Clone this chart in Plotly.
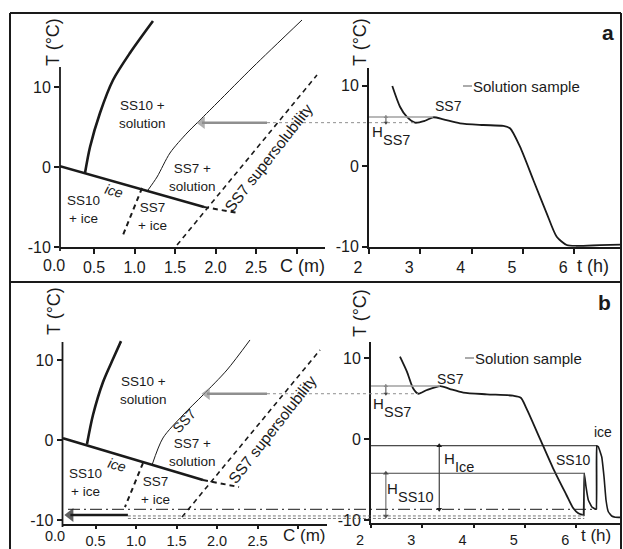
import plotly.graph_objects as go

W, H = 623, 549
FONT = "Liberation Sans, Arial, Helvetica, sans-serif"
INK = "#1a1a1a"
GRAY = "#8f8f8f"

# ---------------- data: panel a, phase diagram (C in m, T in degC) ----------------
a_ice_C = [0.08, 1.858]
a_ice_T = [0.1, -5.0]
a_ss10_C = [0.389, 0.451, 0.574, 0.735, 0.944, 1.228]
a_ss10_T = [-0.75, 2.5, 6.75, 10.875, 14.25, 18.25]
a_ss7_C = [1.167, 1.278, 1.438, 1.648, 1.772, 2.019, 2.463, 3.068]
a_ss7_T = [-2.875, -1.25, 1.75, 4.25, 5.5, 8.0, 12.5, 18.375]
a_ss7ice_C = [1.093, 0.858]
a_ss7ice_T = [-2.625, -8.5]
a_iceext_C = [1.858, 2.278]
a_iceext_T = [-5.0, -5.75]
a_super_C = [1.525, 3.253]
a_super_T = [-9.75, 11.5]
a_arrow_C = [2.636, 1.772]      # gray arrow: tail -> head
a_arrow_T = 5.54

# panel a, temperature record (t in h, T in degC)
a_t = [2.454, 2.604, 2.735, 2.897, 3.092, 3.253, 3.448, 3.774, 4.228, 4.618,
       4.749, 4.943, 5.203, 5.464, 5.659, 5.854, 6.049, 6.5, 6.91]
a_T = [9.97, 7.40, 6.16, 5.42, 5.66, 6.09, 5.84, 5.34, 5.13, 5.01,
       4.72, 2.43, -1.70, -5.84, -8.75, -9.78, -9.90, -9.80, -9.72]
a_sample_T = 6.12      # solution sample level
a_sample_t_end = 3.25
a_min_T = 5.42         # SS7 nucleation level
a_H_t = 2.33

# ---------------- data: panel b, phase diagram ----------------
b_ice_C = [0.099, 1.827]
b_ice_T = [0.25, -4.96]
b_ss10_C = [0.395, 0.469, 0.593, 0.72, 0.815]
b_ss10_T = [-0.46, 3.16, 7.29, 10.25, 12.4]
b_ss7_C = [1.198, 1.333, 1.580, 1.827, 2.123, 2.407]
b_ss7_T = [-3.09, 0.29, 3.16, 5.66, 8.79, 12.54]
b_ss7ice_C = [1.086, 0.864]
b_ss7ice_T = [-2.84, -8.34]
b_iceext_C = [1.827, 2.272]
b_iceext_T = [-4.96, -5.84]
b_super_C = [1.568, 3.272]
b_super_T = [-9.59, 11.29]
b_arrow_C = [2.617, 1.815]      # gray arrow
b_arrow_T = 5.82
b_black_C = [0.90, 0.123]       # black arrow to the C axis
b_black_T = -9.34

# panel b, temperature record
b_t = [2.565, 2.70, 2.82, 2.92, 3.09, 3.35, 3.54, 3.80, 4.26, 4.77, 4.92,
       5.03, 5.29, 5.55, 5.81, 5.944, 6.041, 6.127]
b_T = [10.16, 8.31, 6.26, 5.59, 6.05, 6.54, 6.17, 5.72, 5.52, 5.35, 5.10,
       3.79, 0.09, -3.62, -6.91, -8.56, -9.17, -9.38]
b_spike_t = [6.127, 6.139, 6.158, 6.191, 6.236, 6.302, 6.386, 6.400, 6.431,
             6.497, 6.542, 6.581, 6.626, 6.692, 6.76, 6.87]
b_spike_T = [-9.38, -9.38, -4.23, -5.89, -7.53, -8.36, -8.68, -0.83, -0.95,
             -2.19, -4.65, -7.53, -8.98, -9.51, -9.65, -9.67]
b_sample_T = 6.54
b_sample_t_end = 3.345
b_min_T = 5.59
b_ice_peak_T = -0.83
b_ice_peak_t = 6.400
b_ss10_peak_T = -4.23
b_ss10_peak_t = 6.158
b_dashdot_T = -8.68
b_ss10_min_T = -9.5
b_H_t = 2.29
b_Hice_t = 3.33

# ---------------- layout geometry (pixels) ----------------
def PX(x): return x / W
def PY(y): return 1 - y / H

LA = dict(x0=60, x1=325, c0=53.5, cs=81.0, ty0=167.0, ts=8.0, ytop=13, ybot=247)
LB = dict(x0=62.5, x1=327, c0=55.0, cs=81.0, ty0=440.3, ts=8.0, ytop=282, ybot=524)
RA = dict(x0=369, x1=621, t0=369, tsx=51.3, ty0=166.3, ts=8.05, ytop=68, ybot=246.8)
RB = dict(x0=371, x1=621, t0=371, tsx=51.3, ty0=439.0, ts=8.1, ytop=342, ybot=523)

def lrange(g):
    return [(g["x0"] - g["c0"]) / g["cs"], (g["x1"] - g["c0"]) / g["cs"]]
def ly(g):
    return [(g["ty0"] - g["ybot"]) / g["ts"], (g["ty0"] - g["ytop"]) / g["ts"]]
def rrange(g):
    return [2, 2 + (g["x1"] - g["t0"]) / g["tsx"]]
def rpy(g, T):
    return g["ty0"] - g["ts"] * T
def rpx(g, t):
    return g["t0"] + g["tsx"] * (t - 2)

fig = go.Figure()

def line(x, y, xa, ya, width, color=INK, dash=None, shape="spline", smoothing=0.8):
    fig.add_trace(go.Scatter(x=x, y=y, xaxis=xa, yaxis=ya, mode="lines",
                             line=dict(color=color, width=width, dash=dash,
                                       shape=shape, smoothing=smoothing),
                             hoverinfo="skip", showlegend=False))

def arrow_h(xa, ya, xs, T, g, color, width, msize):
    shift = (msize * 0.45) / g["cs"]
    fig.add_trace(go.Scatter(x=[xs[0], xs[1] + shift], y=[T, T], xaxis=xa, yaxis=ya,
                             mode="lines+markers", cliponaxis=False,
                             line=dict(color=color, width=width),
                             marker=dict(symbol="triangle-left", size=[0, msize], color=color,
                                         line=dict(width=0)),
                             hoverinfo="skip", showlegend=False))

def arrow_v2(xa, ya, t, T_top, T_bot, color, width=1.0, msize=5):
    fig.add_trace(go.Scatter(x=[t, t], y=[T_top, T_bot], xaxis=xa, yaxis=ya,
                             mode="lines+markers", cliponaxis=False,
                             line=dict(color=color, width=width),
                             marker=dict(symbol=["triangle-up", "triangle-down"], size=msize,
                                         color=color, line=dict(width=0)),
                             hoverinfo="skip", showlegend=False))

for (xa, ya, ice_C, ice_T, s10C, s10T, s7C, s7T, s7iC, s7iT, ieC, ieT, spC, spT) in [
    ("x", "y", a_ice_C, a_ice_T, a_ss10_C, a_ss10_T, a_ss7_C, a_ss7_T, a_ss7ice_C,
     a_ss7ice_T, a_iceext_C, a_iceext_T, a_super_C, a_super_T),
    ("x3", "y3", b_ice_C, b_ice_T, b_ss10_C, b_ss10_T, b_ss7_C, b_ss7_T, b_ss7ice_C,
     b_ss7ice_T, b_iceext_C, b_iceext_T, b_super_C, b_super_T)]:
    line(ice_C, ice_T, xa, ya, 2.6, shape="linear")
    line(s10C, s10T, xa, ya, 2.6)
    line(s7C, s7T, xa, ya, 1.0)
    line(s7iC, s7iT, xa, ya, 2.0, dash="5px,4px", shape="linear")
    line(ieC, ieT, xa, ya, 2.0, dash="5px,4px", shape="linear")
    line(spC, spT, xa, ya, 1.6, dash="5px,4px", shape="linear")

arrow_h("x", "y", a_arrow_C, a_arrow_T, LA, GRAY, 2.4, 11)
arrow_h("x3", "y3", b_arrow_C, b_arrow_T, LB, GRAY, 2.4, 11)
arrow_h("x3", "y3", b_black_C, b_black_T, LB, INK, 2.6, 12)

line(a_t, a_T, "x2", "y2", 1.8, smoothing=0.7)
line(b_t, b_T, "x4", "y4", 1.8, smoothing=0.7)
line(b_spike_t, b_spike_T, "x4", "y4", 1.6, shape="spline", smoothing=0.3)

arrow_v2("x2", "y2", a_H_t, a_sample_T, a_min_T, "#444", 1.0, 4)
arrow_v2("x4", "y4", b_H_t, b_sample_T, b_min_T, "#444", 1.0, 4)
arrow_v2("x4", "y4", b_Hice_t, b_ice_peak_T, b_dashdot_T, INK, 1.0, 5)
arrow_v2("x4", "y4", b_H_t, b_ss10_peak_T, b_ss10_min_T, "#555", 1.0, 5)

def common(size=16, ticklen=5):
    return dict(showgrid=False, zeroline=False, ticks="outside", ticklen=ticklen,
                tickwidth=1.5, tickcolor=INK, fixedrange=True,
                tickfont=dict(family=FONT, size=size, color=INK))

def xdom(g): return [PX(g["x0"]), PX(g["x1"])]
def ydom(g): return [PY(g["ybot"]), PY(g["ytop"])]

ctick = [0.5, 1.0, 1.5, 2.0, 2.5, 3.0]
ctext = ["0.5", "1.0", "1.5", "2.0", "2.5", ""]
ttick = [2, 3, 4, 5, 6]
ttext = ["2", "3", "4", "5", "6"]
Ttick = [-10, 0, 10]
Ttext = ["-10", "0", "10"]

fig.update_layout(
    width=W, height=H, margin=dict(l=0, r=0, t=0, b=0, autoexpand=False),
    paper_bgcolor="white", plot_bgcolor="rgba(0,0,0,0)",
    font=dict(family=FONT, color=INK),
    xaxis=dict(domain=xdom(LA), range=lrange(LA), anchor="y", showline=True,
               linewidth=1.8, linecolor=INK, tickvals=ctick, ticktext=ctext, **common()),
    yaxis=dict(domain=ydom(LA), range=ly(LA), anchor="x", showline=False,
               tickvals=Ttick, ticktext=Ttext, **common()),
    xaxis2=dict(domain=xdom(RA), range=rrange(RA), anchor="y2", showline=True,
                linewidth=1.8, linecolor=INK, tickvals=ttick, ticktext=ttext,
                ticklabelshift=-11, **common()),
    yaxis2=dict(domain=ydom(RA), range=[-10, (RA["ty0"] - RA["ytop"]) / RA["ts"]],
                anchor="x2", showline=True, linewidth=1.8, linecolor=INK,
                tickvals=Ttick, ticktext=Ttext, **common()),
    xaxis3=dict(domain=xdom(LB), range=lrange(LB), anchor="y3", showline=True,
                linewidth=1.8, linecolor=INK, tickvals=ctick, ticktext=ctext,
                **common(14.5, 3)),
    yaxis3=dict(domain=ydom(LB), range=ly(LB), anchor="x3", showline=False,
                tickvals=Ttick, ticktext=Ttext, **common()),
    xaxis4=dict(domain=xdom(RB), range=rrange(RB), anchor="y4", showline=True,
                linewidth=1.8, linecolor=INK, tickvals=ttick, ticktext=ttext,
                ticklabelshift=-11, **common(14.5, 3)),
    yaxis4=dict(domain=ydom(RB), range=[(RB["ty0"] - RB["ybot"]) / RB["ts"],
                                        (RB["ty0"] - RB["ytop"]) / RB["ts"]],
                anchor="x4", showline=True, linewidth=1.8, linecolor=INK,
                tickvals=Ttick, ticktext=Ttext, **common()),
)

shapes = []
def pline(x0, y0, x1, y1, color=INK, width=1.0, dash=None):
    shapes.append(dict(type="line", xref="paper", yref="paper", x0=PX(x0), y0=PY(y0),
                       x1=PX(x1), y1=PY(y1), line=dict(color=color, width=width, dash=dash)))
def dline(xa, ya, x0, y0, x1, y1, color=INK, width=1.0, dash=None):
    shapes.append(dict(type="line", xref=xa, yref=ya, x0=x0, y0=y0, x1=x1, y1=y1,
                       line=dict(color=color, width=width, dash=dash)))

# frame
pline(10, 13, 621, 13, width=2)
pline(10, 282, 621, 282, width=2)
pline(10, 13, 10, 549, width=2)
pline(621, 13, 621, 549, width=2)

# manual left y-axis lines
pline(LA["x0"], 67, LA["x0"], 251, width=1.8)
pline(LB["x0"], 342, LB["x0"], 527, width=1.8)

ya_min = rpy(RA, a_min_T)
pline(LA["c0"] + LA["cs"] * a_arrow_C[0], ya_min, 415, ya_min, color=GRAY, width=1, dash="dot")
yb_min = rpy(RB, b_min_T)
pline(LB["c0"] + LB["cs"] * b_arrow_C[0], yb_min, 418, yb_min, color=GRAY, width=1, dash="dot")

dline("x2", "y2", 2, a_sample_T, a_sample_t_end, a_sample_T, color="#a0a0a0", width=1.6)
dline("x4", "y4", 2, b_sample_T, b_sample_t_end, b_sample_T, color="#a0a0a0", width=1.6)

dline("x4", "y4", 2, b_ice_peak_T, b_ice_peak_t, b_ice_peak_T, width=1.0)
dline("x4", "y4", b_ice_peak_t, b_ice_peak_T, b_ice_peak_t, b_dashdot_T, width=1.0)
dline("x4", "y4", 2, b_ss10_peak_T, b_ss10_peak_t, b_ss10_peak_T, color="#444", width=1.0)
dline("x4", "y4", b_ss10_peak_t, b_ss10_peak_T, b_ss10_peak_t, b_ss10_min_T, color="#444", width=1.0)

y_dd = rpy(RB, b_dashdot_T)
pline(68, y_dd, rpx(RB, b_ice_peak_t), y_dd, width=1.0, dash="12px,4px,2px,4px")
y_m = rpy(RB, b_ss10_min_T)
x_tail = LB["c0"] + LB["cs"] * b_black_C[0]
pline(x_tail, y_m, rpx(RB, b_ss10_peak_t), y_m, color="#555", width=0.8, dash="3px,2px")
pline(x_tail, y_m + 2.5, rpx(RB, b_ss10_peak_t), y_m + 2.5, color="#555", width=0.8, dash="3px,2px")

pline(463, 86, 472, 86, color=GRAY, width=1.5)
pline(465, 358, 474, 358, color=GRAY, width=1.5)

fig.update_layout(shapes=shapes)

ann = []
def txt(x, y, s, size=13.5, angle=0, xanchor="center", italic=False, bold=False, color=INK):
    if italic:
        s = "<i>" + s + "</i>"
    if bold:
        s = "<b>" + s + "</b>"
    ann.append(dict(xref="paper", yref="paper", x=PX(x), y=PY(y), text=s, showarrow=False,
                    textangle=angle, xanchor=xanchor, yanchor="middle", borderpad=0,
                    font=dict(family=FONT, size=size, color=color)))

for (x, y) in [(53, 42), (360, 42), (54, 311), (360, 313)]:
    txt(x, y, "T (°C)", size=18, angle=-90)
txt(302, 266, "C (m)", size=18)
txt(304, 535, "C (m)", size=17)
txt(593, 266, "t (h)", size=18)
txt(596, 535, "t (h)", size=17)
txt(LA["c0"], 265, "0.0", size=16)
txt(LB["c0"], 535.5, "0.0", size=14.5)
txt(608, 33, "a", size=21, bold=True)
txt(604, 302, "b", size=21, bold=True)

txt(142, 115, "SS10 +<br>solution")
txt(192, 177, "SS7 +<br>solution")
txt(83, 209, "SS10<br>+ ice")
txt(152, 216, "SS7<br>+ ice")
txt(114, 191, "ice", size=14, angle=16, italic=True)
txt(269, 158, "SS7 supersolubility", size=15.5, angle=-52)
txt(143, 390, "SS10 +<br>solution")
txt(192, 452, "SS7 +<br>solution")
txt(85, 482, "SS10<br>+ ice")
txt(155, 490, "SS7<br>+ ice")
txt(117, 465, "ice", size=14, angle=16, italic=True)
txt(272, 429, "SS7 supersolubility", size=15.5, angle=-52)
txt(184, 421, "SS7", size=14, angle=-47)

txt(472, 86, "Solution sample", size=15, xanchor="left")
txt(474, 358, "Solution sample", size=15, xanchor="left")
txt(448, 106, "SS7", size=14)
txt(450, 379, "SS7", size=14)
txt(603, 432, "ice", size=14)
txt(573, 460, "SS10", size=14)

def Hlab(xH, yH, sub, xs, ys):
    txt(xH, yH, "H", size=15)
    txt(xs, ys, sub, size=14.5, xanchor="left")

Hlab(377, 131, "SS7", 382, 140)
Hlab(378, 403, "SS7", 383, 412)
Hlab(449, 458, "Ice", 454, 467)
Hlab(392, 488, "SS10", 397, 497)

fig.update_layout(annotations=ann)

fig.write_html("out.html", post_script="document.body.style.margin='0px';")
